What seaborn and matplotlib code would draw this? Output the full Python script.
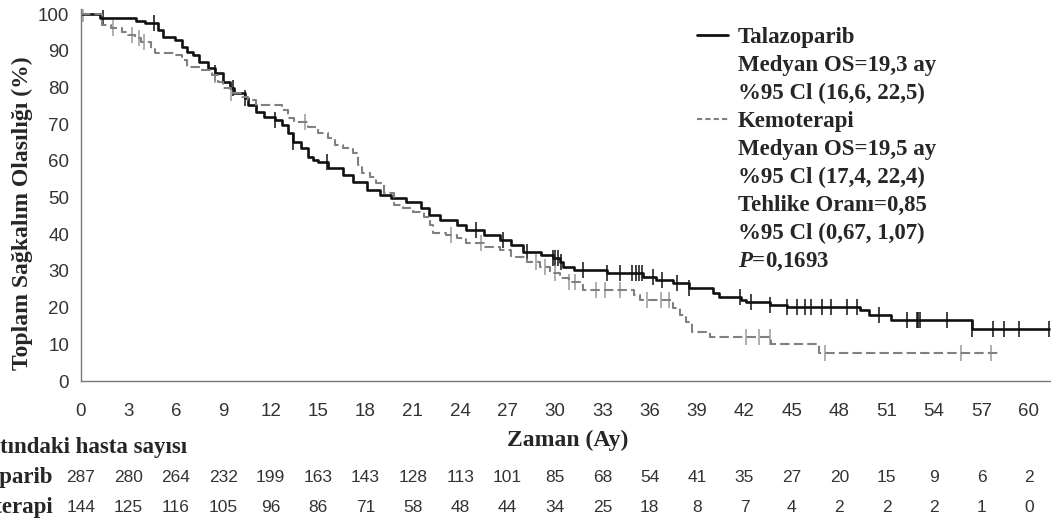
import numpy as np
import pandas as pd
import seaborn as sns
import matplotlib.pyplot as plt
import matplotlib.transforms as mtransforms
from matplotlib.lines import Line2D

# Kaplan-Meier steps (time in months, survival in %)
tala_t = [0, 1.2, 3.5, 4.05, 4.9, 5.2, 5.95, 6.4, 6.7, 7.1, 7.5, 8.06, 8.5, 9.0, 9.4, 9.7,
          10.4, 10.6, 11.1, 11.6, 12.3, 12.7, 13.1, 13.4, 13.9, 14.4, 14.7, 15.0, 15.65, 16.6,
          17.2, 18.1, 18.9, 19.6, 20.6, 21.5, 22.0, 22.7, 23.8, 24.4, 25.5, 26.5, 27.2, 28.0,
          29.1, 29.9, 30.3, 30.5, 31.2, 33.3, 35.6, 36.4, 37.5, 38.5, 40.0, 40.4, 41.8, 42.1,
          43.6, 44.7, 49.3, 49.9, 51.3, 56.4, 61.3]
tala_s = [100, 99, 98, 97.5, 95.6, 93.8, 92.9, 91.1, 89.7, 88.8, 87, 85.2, 83.8, 81.6, 79.8, 78.4,
          77, 75.2, 73.4, 72, 71.1, 69.8, 67.5, 65.2, 63.4, 61.1, 60.2, 59.8, 58, 56.1,
          54.3, 52, 50.7, 49.8, 48.9, 47.1, 45.2, 43.9, 42.5, 41.1, 39.8, 38.4, 37.1, 35.2,
          34.3, 33.4, 32.5, 31.1, 30.2, 29.3, 28.4, 27.5, 26.6, 25.3, 23.9, 23, 22.1, 21.6,
          20.7, 20.1, 19.3, 18, 16.6, 14.2, 14.2]
tala_cens = [1.4, 4.6, 8.5, 9.6, 10.4, 12.3, 13.4, 15.6, 25.0, 26.7, 28.2, 29.9, 30.0, 30.2,
             30.4, 31.8, 33.3, 34.1, 34.9, 35.1, 35.3, 35.5, 36.2, 36.75, 37.7, 38.5, 41.7,
             42.4, 43.6, 44.7, 45.3, 45.8, 46.2, 46.9, 47.5, 48.5, 49.1, 50.5, 52.3, 52.9,
             53.0, 53.1, 54.8, 56.4, 57.7, 58.4, 59.4, 61.3]

chemo_t = [0, 1.3, 1.9, 2.6, 3.0, 3.4, 3.8, 4.4, 4.7, 5.95, 6.4, 6.7, 7.6, 8.3, 8.7, 9.0, 9.5,
           10.2, 10.6, 11.1, 12.7, 13.1, 13.5, 14.4, 15.0, 15.65, 16.1, 16.6, 17.2, 17.55, 17.8,
           18.3, 18.7, 19.2, 19.8, 20.4, 21.0, 21.7, 22.1, 22.3, 23.1, 23.8, 24.4, 25.5, 26.5,
           27.2, 28.2, 29.05, 29.7, 30.3, 30.9, 31.6, 31.8, 35.0, 35.4, 37.5, 37.9, 38.3, 38.65,
           39.8, 43.7, 46.7, 58.1]
chemo_s = [100, 97, 96.3, 95.2, 94.3, 93.4, 92.5, 90.6, 89.3, 88.8, 87.5, 85.6, 84.7, 83.4, 81.6,
           79.8, 78.4, 77.5, 76.6, 75.2, 73.8, 71.6, 70.7, 69.3, 67.5, 66.1, 64.3, 63.4, 62, 58.9,
           56.6, 55.7, 53.9, 51.1, 48, 47.1, 46.1, 44.8, 42.5, 40.2, 39.8, 38.9, 37.5, 36.6, 35.7,
           33.9, 32.5, 31.1, 29.3, 28, 27.1, 26.2, 24.8, 23.4, 22.1, 19.8, 18, 16.2, 13.4, 12.1,
           10.2, 7.6, 7.6]
chemo_cens = [0.1, 2.0, 3.2, 3.7, 4.0, 8.5, 9.5, 14.2, 23.4, 25.3, 28.8, 29.4, 30.0, 30.9,
              31.3, 32.6, 33.2, 34.1, 35.8, 36.7, 37.2, 42.1, 42.9, 43.6, 47.1, 55.7, 57.6]

risk_times = list(range(0, 61, 3))
risk_tala = [287, 280, 264, 232, 199, 163, 143, 128, 113, 101, 85, 68, 54, 41, 35, 27, 20, 15, 9, 6, 2]
risk_chemo = [144, 125, 116, 105, 96, 86, 71, 58, 48, 44, 34, 25, 18, 8, 7, 4, 2, 2, 2, 1, 0]

legend_lines = ["Talazoparib", "Medyan OS=19,3 ay", "%95 Cl (16,6, 22,5)",
                "Kemoterapi", "Medyan OS=19,5 ay", "%95 Cl (17,4, 22,4)",
                "Tehlike Oranı=0,85", "%95 Cl (0,67, 1,07)", r"$\mathbfit{P}$=0,1693"]

BLACK = "#111111"
GRAY = "#808080"
SERIF = "Liberation Serif"
SANS = "Liberation Sans"

sns.set_style("white")
plt.rcParams["font.family"] = [SANS, "DejaVu Sans"]
plt.rcParams["mathtext.fontset"] = "custom"
plt.rcParams["mathtext.bfit"] = "Liberation Serif:italic:bold"
plt.rcParams["mathtext.rm"] = "Liberation Serif:bold"


def km_df(t, s):
    return pd.DataFrame({"t": t, "s": s})


def cens_points(t, s, c):
    t = np.asarray(t)
    s = np.asarray(s)
    idx = np.searchsorted(t, c, side="right") - 1
    return pd.DataFrame({"t": c, "s": s[idx]})


fig = plt.figure(figsize=(10.51, 5.25), dpi=100)
ax = fig.add_axes([81 / 1051, 144 / 525, 970 / 1051, 372.5 / 525])

sns.lineplot(data=km_df(tala_t, tala_s), x="t", y="s", ax=ax, color=BLACK,
             linewidth=1.9, drawstyle="steps-post", estimator=None)
sns.lineplot(data=km_df(chemo_t, chemo_s), x="t", y="s", ax=ax, color=GRAY,
             linewidth=1.5, linestyle=(0, (4.5, 2)), drawstyle="steps-post", estimator=None)

sns.scatterplot(data=cens_points(tala_t, tala_s, tala_cens), x="t", y="s", ax=ax,
                marker="|", s=120, linewidth=1.1, color=BLACK)
sns.scatterplot(data=cens_points(chemo_t, chemo_s, chemo_cens), x="t", y="s", ax=ax,
                marker="|", s=120, linewidth=1.1, color="#9a9a9a")

ax.set_xlim(0, 61.4)
ax.set_ylim(0, 101.5)
ax.set_xticks(risk_times)
ax.set_yticks(range(0, 101, 10))
sns.despine(ax=ax)
for side in ["left", "bottom"]:
    ax.spines[side].set_color("#777777")
    ax.spines[side].set_linewidth(1.0)
ax.tick_params(axis="both", colors="#777777", labelcolor="#333333", labelsize=13.5,
               length=5.5, width=1.0, direction="out")
ax.tick_params(axis="x", pad=10)
ax.tick_params(axis="y", pad=3)
for lab in ax.get_xticklabels() + ax.get_yticklabels():
    lab.set_family(SANS)

ax.set_ylabel("Toplam Sağkalım Olasılığı (%)", family=SERIF, weight="bold", fontsize=17)
ax.yaxis.set_label_coords(-0.0495, 0.451)
ax.set_xlabel("Zaman (Ay)", family=SERIF, weight="bold", fontsize=17)
ax.xaxis.set_label_coords(0.502, -0.13)

# legend
blank = Line2D([], [], color="none")
handles = [Line2D([], [], color=BLACK, linewidth=2.0), blank, blank,
           Line2D([], [], color=GRAY, linewidth=1.5, linestyle=(0, (2.5, 1.5))),
           blank, blank, blank, blank, blank]
leg = ax.legend(handles, legend_lines, loc="upper left", frameon=False,
                bbox_to_anchor=(697 / 1051, 1 - 27 / 525), bbox_transform=fig.transFigure,
                prop={"family": SERIF, "weight": "bold", "size": 16.5},
                handlelength=1.35, handletextpad=0.44, labelspacing=0.30,
                borderpad=0, borderaxespad=0)

# number at risk table
fig.text(187 / 1051, 1 - 448 / 525, "Risk altındaki hasta sayısı", ha="right", va="center",
         family=SERIF, weight="bold", fontsize=16.5)
fig.text(53 / 1051, 1 - 477 / 525, "Talazoparib", ha="right", va="center",
         family=SERIF, weight="bold", fontsize=16.5)
fig.text(53 / 1051, 1 - 507 / 525, "Kemoterapi", ha="right", va="center",
         family=SERIF, weight="bold", fontsize=16.5)
trans = mtransforms.blended_transform_factory(ax.transData, fig.transFigure)
for t, a, b in zip(risk_times, risk_tala, risk_chemo):
    fig.text(t, 1 - 477 / 525, str(a), transform=trans, ha="center", va="center",
             family=SANS, fontsize=12.5, color="#333333")
    fig.text(t, 1 - 507 / 525, str(b), transform=trans, ha="center", va="center",
             family=SANS, fontsize=12.5, color="#333333")

fig.savefig("out.png", dpi=100)
